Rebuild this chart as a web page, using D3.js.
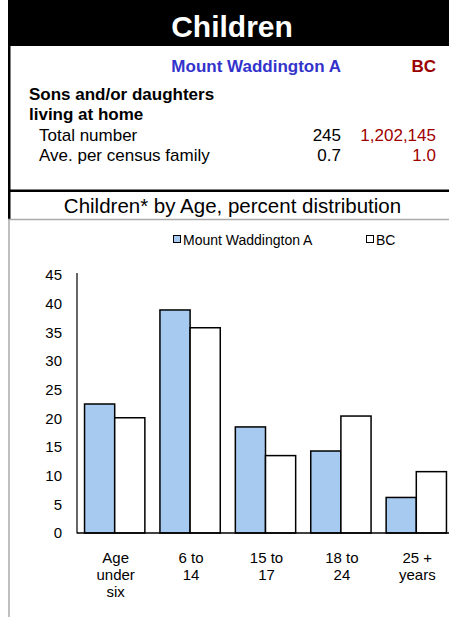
<!DOCTYPE html>
<html><head><meta charset="utf-8">
<script src="https://cdn.jsdelivr.net/npm/d3@7"></script>
<style>html,body{margin:0;padding:0;background:#fff;}svg{display:block;font-family:"Liberation Sans",Arial,sans-serif;}</style>
</head><body>
<script>
const categories = [["Age","under","six"],["6 to","14"],["15 to","17"],["18 to","24"],["25 +","years"]];
const seriesNames = ["Mount Waddington A","BC"];
const valuesMW = [22.5, 38.9, 18.5, 14.3, 6.2];
const valuesBC = [20.1, 35.8, 13.5, 20.4, 10.7];
const yTicks = [0,5,10,15,20,25,30,35,40,45];
const statRows = [["Total number","245","1,202,145"],["Ave. per census family","0.7","1.0"]];

const W=449,H=617;
const svg=d3.select("body").append("svg").attr("width",W).attr("height",H);
const blue="#a6caf0", red="#990000", hblue="#3333cc";

// header banner
svg.append("rect").attr("x",8).attr("y",0).attr("width",W-8).attr("height",46).attr("fill","#000");
svg.append("text").attr("x",232).attr("y",37).attr("text-anchor","middle").attr("fill","#fff")
  .attr("font-size",30).attr("font-weight","bold").text("Children");
// borders
svg.append("rect").attr("x",8).attr("y",46).attr("width",2.5).attr("height",173).attr("fill","#000");
svg.append("rect").attr("x",8).attr("y",189.5).attr("width",W-8).attr("height",2.5).attr("fill","#000");
svg.append("line").attr("x1",8).attr("x2",W).attr("y1",219.5).attr("y2",219.5).attr("stroke","#aaa").attr("stroke-width",1.5);
svg.append("line").attr("x1",9).attr("x2",9).attr("y1",219).attr("y2",H).attr("stroke","#aaa").attr("stroke-width",1.5);

// table
const fs=17;
svg.append("text").attr("x",341).attr("y",72).attr("text-anchor","end").attr("fill",hblue).attr("font-weight","bold").attr("font-size",fs).text(seriesNames[0]);
svg.append("text").attr("x",436).attr("y",72).attr("text-anchor","end").attr("fill",red).attr("font-weight","bold").attr("font-size",fs).text(seriesNames[1]);
svg.append("text").attr("x",29).attr("y",100).attr("font-weight","bold").attr("font-size",fs).text("Sons and/or daughters");
svg.append("text").attr("x",29).attr("y",120).attr("font-weight","bold").attr("font-size",fs).text("living at home");
statRows.forEach((r,i)=>{
  const y=141+i*20;
  svg.append("text").attr("x",39).attr("y",y).attr("font-size",fs).text(r[0]);
  svg.append("text").attr("x",341).attr("y",y).attr("text-anchor","end").attr("font-size",fs).text(r[1]);
  svg.append("text").attr("x",436).attr("y",y).attr("text-anchor","end").attr("font-size",fs).attr("fill","#a00000").text(r[2]);
});
svg.append("text").attr("x",232.5).attr("y",213).attr("text-anchor","middle").attr("font-size",20.5).text("Children* by Age, percent distribution");

// legend
const leg=[{n:seriesNames[0],c:blue,x:173},{n:seriesNames[1],c:"#fff",x:366}];
leg.forEach(l=>{
  svg.append("rect").attr("x",l.x+0.5).attr("y",235.5).attr("width",7).attr("height",7).attr("fill",l.c).attr("stroke","#000").attr("stroke-width",1);
  svg.append("text").attr("x",l.x+10).attr("y",244.5).attr("font-size",14).text(l.n);
});

// chart
const x=d3.scaleBand().domain(d3.range(categories.length)).range([77,454]).paddingInner(0.2).paddingOuter(0.1);
const x1=d3.scaleBand().domain([0,1]).range([0,x.bandwidth()]);
const y=d3.scaleLinear().domain([0,45]).range([533,275]);

const g=svg.append("g");
const data=categories.map((c,i)=>[valuesMW[i],valuesBC[i]]);
data.forEach((vals,i)=>{
  vals.forEach((v,j)=>{
    g.append("rect").attr("x",x(i)+x1(j)).attr("y",y(v)).attr("width",x1.bandwidth()).attr("height",y(0)-y(v))
      .attr("fill",j===0?blue:"#fff").attr("stroke","#000").attr("stroke-width",1.5);
  });
});

const yAxis=d3.axisLeft(y).tickValues(yTicks).tickSize(0).tickPadding(15);
const ya=svg.append("g").attr("transform","translate(77,0)").call(yAxis);
ya.select(".domain").remove();
ya.selectAll("text").attr("font-size",15).attr("font-family","Liberation Sans, Arial, sans-serif").attr("fill","#000");
svg.append("line").attr("x1",77).attr("x2",77).attr("y1",273).attr("y2",533.5).attr("stroke","#000").attr("stroke-width",1.2);
svg.append("line").attr("x1",77).attr("x2",454).attr("y1",533).attr("y2",533).attr("stroke","#000").attr("stroke-width",1.5);

categories.forEach((lines,i)=>{
  const t=svg.append("text").attr("text-anchor","middle").attr("font-size",15);
  lines.forEach((ln,k)=>{
    t.append("tspan").attr("x",x(i)+x.bandwidth()/2+1).attr("y",563+k*17).text(ln);
  });
});
</script>
</body></html>
